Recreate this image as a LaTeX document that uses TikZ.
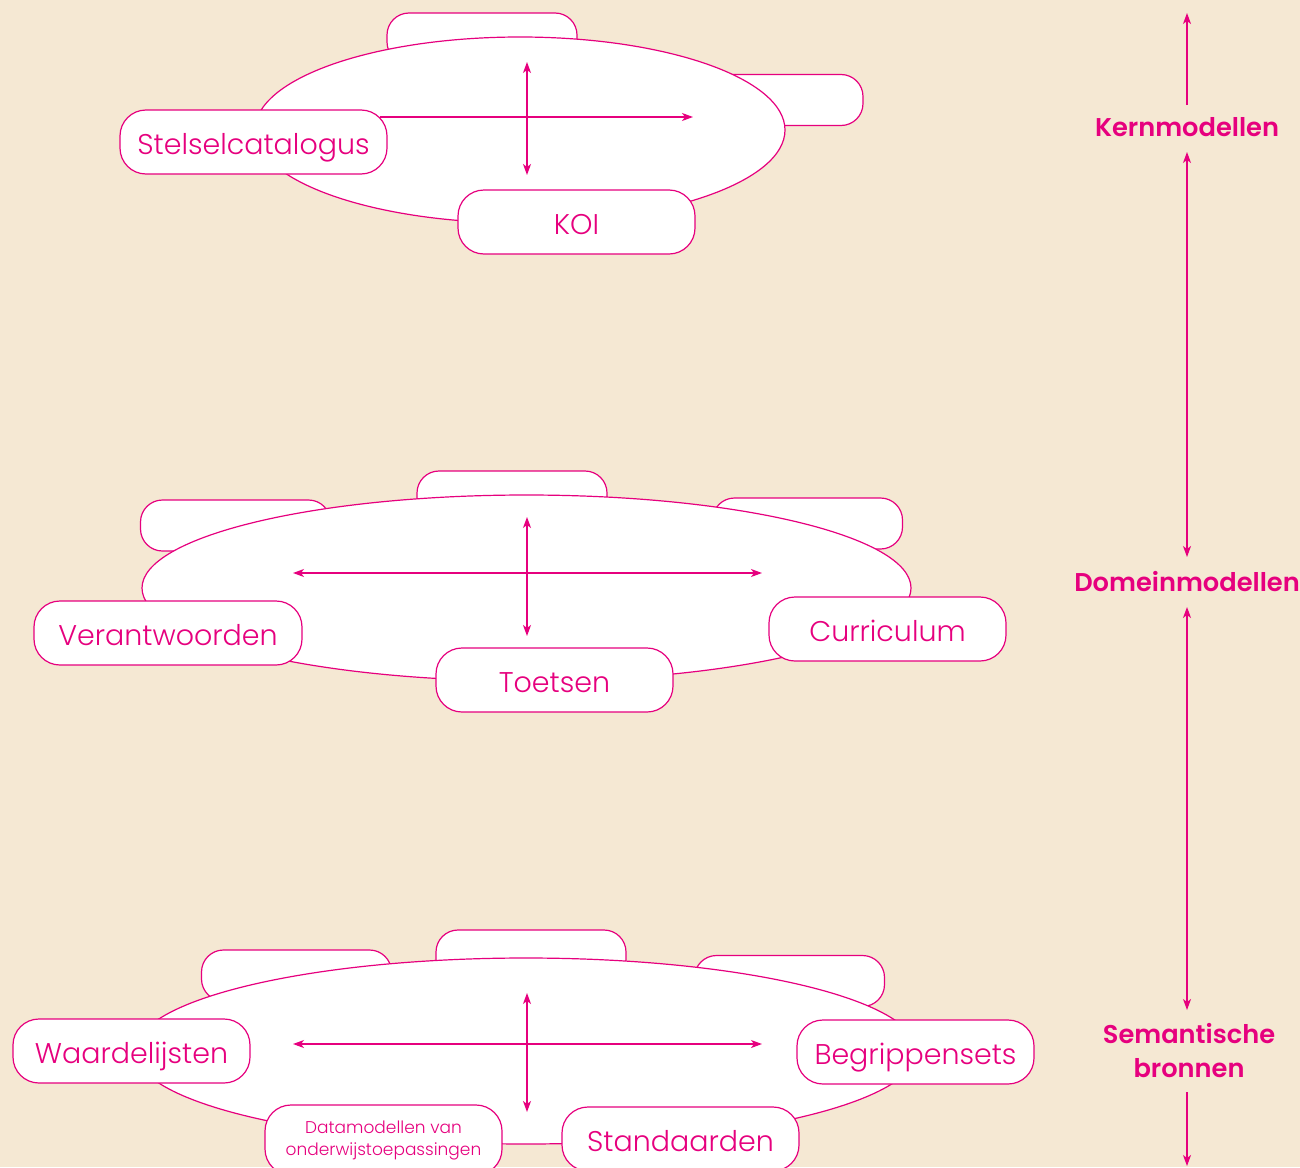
\documentclass[tikz,border=0pt]{standalone}
\usepackage{fontspec}
\IfFontExistsTF{Poppins Light}{\setmainfont{Poppins Light}}{\setmainfont{Poppins}}
\IfFontExistsTF{Poppins SemiBold}{\newfontfamily\headf{Poppins SemiBold}}{\newfontfamily\headf{Poppins}[UprightFont=*-Bold]}
\usetikzlibrary{arrows.meta,shapes.geometric}
\definecolor{mag}{HTML}{E6007E}
\definecolor{bg}{HTML}{F5E8D3}
\tikzset{
  tip/.tip={Stealth[length=11pt,width=8pt,inset=3pt]},
  arr/.style={draw=mag,line width=1.2pt,-tip},
  arrtwo/.style={draw=mag,line width=1.2pt,tip-tip},
  backbox/.style={draw=mag,fill=white,line width=1.2pt,rounded corners=22pt,minimum width=190pt,minimum height=51pt,inner sep=0pt},
  frontbox/.style={draw=mag,fill=white,line width=1.2pt,rounded corners=26pt,minimum width=237pt,minimum height=64pt,inner sep=0pt,text=mag,text height=24pt,text depth=0pt,font=\fontsize{28.5}{32}\selectfont},
  table/.style={ellipse,draw=mag,fill=white,line width=1.2pt,inner sep=0pt},
  head/.style={text=mag,font=\headf\fontsize{25.7}{34}\selectfont,align=center,inner sep=0pt}
}
\begin{document}
\begin{tikzpicture}[x=1pt,y=-1pt]
\fill[bg] (0,0) rectangle (1300,1167);
\useasboundingbox (0,0) rectangle (1300,1167);

% ---------- top group ----------
\node[backbox] (t1) at (482,38.5) {};
\node[backbox] (t2) at (768,100) {};
\node[table,minimum width=530pt,minimum height=186pt] (e1) at (520,130) {};
\coordinate (e1up) at (527,62);
\coordinate (e1dn) at (527,175);
\coordinate (e1rt) at (693,117);
\coordinate (e1lf) at (380,117);
\draw[arrtwo] (e1up) -- (e1dn);
\draw[arr] (e1lf) -- (e1rt);
\node[frontbox,minimum width=267pt] (stel) at (253.5,142) {Stelselcatalogus};
\node[frontbox] (koi) at (576.5,222) {KOI};

% ---------- middle group ----------
\node[backbox] (m1) at (512,496.5) {};
\node[backbox] (m2) at (235.5,525.5) {};
\node[backbox] (m3) at (807.5,523.5) {};
\node[table,minimum width=769pt,minimum height=186pt] (e2) at (526.5,588) {};
\coordinate (e2up) at (527,517);
\coordinate (e2dn) at (527,636);
\coordinate (e2lf) at (293,573);
\coordinate (e2rt) at (762,573);
\draw[arrtwo] (e2up) -- (e2dn);
\draw[arrtwo] (e2lf) -- (e2rt);
\node[frontbox,minimum width=268pt] (ver) at (168,633) {Verantwoorden};
\node[frontbox] (toe) at (554.5,680) {Toetsen};
\node[frontbox] (cur) at (887.5,629) {Curriculum};

% ---------- bottom group ----------
\node[backbox] (b1) at (531,955.5) {};
\node[backbox] (b2) at (296.5,975.5) {};
\node[backbox] (b3) at (789.5,981) {};
\node[table,minimum width=782pt,minimum height=186pt] (e3) at (526,1051) {};
\coordinate (e3up) at (527,993);
\coordinate (e3dn) at (527,1112);
\coordinate (e3lf) at (293,1044);
\coordinate (e3rt) at (762,1044);
\draw[arrtwo] (e3up) -- (e3dn);
\draw[arrtwo] (e3lf) -- (e3rt);
\node[frontbox] (waa) at (131.5,1051) {Waardelijsten};
\node[frontbox] (beg) at (915.5,1052) {Begrippensets};
\node[frontbox,minimum height=70pt,align=center,text height=,text depth=,font=\fontsize{17}{22}\selectfont] (dat) at (383.5,1140) {Datamodellen van\\onderwijstoepassingen};
\node[frontbox] (sta) at (680.5,1139) {Standaarden};

% ---------- axis ----------
\node[head] (kern) at (1187,127) {Kernmodellen};
\node[head] (dom) at (1187,582) {Domeinmodellen};
\node[head] (sem) at (1189,1051) {Semantische\\bronnen};
\coordinate (axtop) at (1187,13);
\coordinate (axbot) at (1187,1166);
\draw[arr] ([yshift=22pt]kern.center -| axtop) -- (axtop);
\draw[arrtwo] ([yshift=-25pt]kern.center -| axtop) -- ([yshift=25pt]dom.center -| axtop);
\draw[arrtwo] ([yshift=-25pt]dom.center -| axtop) -- ([yshift=41pt]sem.center -| axtop);
\draw[arr] ([yshift=-41pt]sem.center -| axtop) -- (axbot);
\end{tikzpicture}
\end{document}
